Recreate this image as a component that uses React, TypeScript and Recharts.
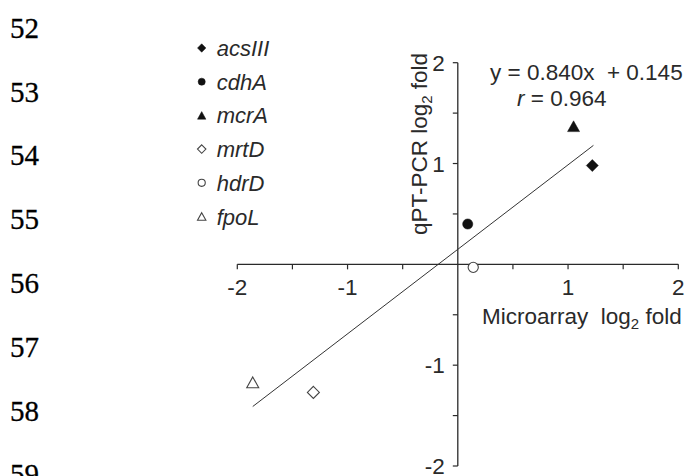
import { ScatterChart, Scatter, XAxis, YAxis, ReferenceLine } from "recharts"

// genes: microarray log2 fold (x) vs qPT-PCR log2 fold (y)
const genes = ["acsIII", "cdhA", "mcrA", "mrtD", "hdrD", "fpoL"]
const microarray = [1.22, 0.09, 1.05, -1.31, 0.14, -1.86]
const qpcr = [0.98, 0.4, 1.37, -1.27, -0.03, -1.17]
const symbols = ["diamond", "circle", "triangle", "diamond", "circle", "triangle"]
const filled = [true, true, true, false, false, false]

// regression line ends
const fitStart = { x: -1.86, y: -1.41 }
const fitEnd = { x: 1.23, y: 1.18 }

const tickValues = [-2, -1.5, -1, -0.5, 0.5, 1, 1.5, 2]
const tickLabels = ["-2", "", "-1", "", "", "1", "", "2"]

const lineNumbers = [52, 53, 54, 55, 56, 57, 58, 59]

const INK = "#2a2a2a"
const FONT = "'Liberation Sans', Arial, sans-serif"

const points = genes.map((g, i) => ({
  gene: g,
  x: microarray[i],
  y: qpcr[i],
  symbol: symbols[i],
  filled: filled[i],
}))

const xTicks = tickValues.map((v, i) => ({ x: v, y: 0, label: tickLabels[i] }))
const yTicks = tickValues.map((v, i) => ({ x: 0, y: v, label: tickLabels[i] }))

const Marker = ({ cx, cy, symbol, isFilled, s }: any) => {
  const fill = isFilled ? "#111" : "#fff"
  const stroke = isFilled ? "#111" : "#444"
  const sw = isFilled ? 0.5 : 1.1
  if (symbol === "diamond") {
    return (
      <polygon
        points={`${cx},${cy - s} ${cx + s},${cy} ${cx},${cy + s} ${cx - s},${cy}`}
        fill={fill}
        stroke={stroke}
        strokeWidth={sw}
      />
    )
  }
  if (symbol === "triangle") {
    const h = s * 0.9
    return (
      <polygon
        points={`${cx},${cy - h} ${cx + s},${cy + h} ${cx - s},${cy + h}`}
        fill={fill}
        stroke={stroke}
        strokeWidth={sw}
      />
    )
  }
  return <circle cx={cx} cy={cy} r={s * 0.85} fill={fill} stroke={stroke} strokeWidth={sw} />
}

const renderPoint = (props: any) => {
  const { cx, cy, payload } = props
  return <Marker cx={cx} cy={cy} symbol={payload.symbol} isFilled={payload.filled} s={6} />
}

const renderXTick = (props: any) => {
  const { cx, cy, payload } = props
  return (
    <g>
      <line x1={cx} y1={cy} x2={cx} y2={cy + 5} stroke={INK} strokeWidth={1.2} />
      {payload.label && (
        <text x={cx} y={cy + 31} textAnchor="middle" fontSize={22.5} fontFamily={FONT} fill={INK}>
          {payload.label}
        </text>
      )}
    </g>
  )
}

const renderYTick = (props: any) => {
  const { cx, cy, payload } = props
  return (
    <g>
      <line x1={cx} y1={cy} x2={cx - 5} y2={cy} stroke={INK} strokeWidth={1.2} />
      {payload.label && (
        <text x={cx - 13} y={cy + 8} textAnchor="end" fontSize={22.5} fontFamily={FONT} fill={INK}>
          {payload.label}
        </text>
      )}
    </g>
  )
}

const App = () => {
  return (
    <div style={{ position: "absolute", left: 0, top: 0, width: 688, height: 476, background: "#fff" }}>
      <ScatterChart
        width={688}
        height={476}
        margin={{ top: 62.7, right: 9.7, bottom: 10, left: 237.3 }}
        style={{ overflow: "visible" }}
      >
        <XAxis type="number" dataKey="x" domain={[-2, 2]} hide />
        <YAxis type="number" dataKey="y" domain={[-2, 2]} hide />
        <ReferenceLine x={0} stroke={INK} strokeWidth={1.3} />
        <ReferenceLine y={0} stroke={INK} strokeWidth={1.3} />
        <ReferenceLine segment={[fitStart, fitEnd]} stroke="#333" strokeWidth={1} />
        <Scatter data={xTicks} shape={renderXTick} isAnimationActive={false} />
        <Scatter data={yTicks} shape={renderYTick} isAnimationActive={false} />
        <Scatter data={points} shape={renderPoint} isAnimationActive={false} />
      </ScatterChart>

      <svg
        width={688}
        height={476}
        style={{ position: "absolute", left: 0, top: 0, pointerEvents: "none" }}
      >
        {lineNumbers.map((n, i) => (
          <text
            key={n}
            x={10}
            y={37.7 + i * 63.8}
            fontSize={29}
            fontFamily="'Liberation Serif', 'Times New Roman', serif"
            fill="#000"
            stroke="#000"
            strokeWidth={0.3}
          >
            {n}
          </text>
        ))}

        {points.map((p, i) => (
          <g key={p.gene}>
            <Marker cx={201.7} cy={48 + i * 33.7} symbol={p.symbol} isFilled={p.filled} s={4.2} />
            <text
              x={216.7}
              y={48 + i * 33.7 + 8}
              fontSize={22}
              fontStyle="italic"
              fontFamily={FONT}
              fill={INK}
            >
              {p.gene}
            </text>
          </g>
        ))}

        <text x={490} y={80} fontSize={22.5} fontFamily={FONT} fill={INK} xmlSpace="preserve">
          y = 0.840x  + 0.145
        </text>
        <text x={517} y={106} fontSize={22.5} fontFamily={FONT} fill={INK}>
          <tspan fontStyle="italic">r</tspan> = 0.964
        </text>

        <text x={482} y={324} fontSize={22.5} fontFamily={FONT} fill={INK} xmlSpace="preserve">
          Microarray  log<tspan fontSize={15} dy={5}>2</tspan>
          <tspan dy={-5}> fold</tspan>
        </text>

        <text
          transform="translate(427, 144) rotate(-90)"
          textAnchor="middle"
          fontSize={22.5}
          fontFamily={FONT}
          fill={INK}
        >
          qPT-PCR log<tspan fontSize={15} dy={5}>2</tspan>
          <tspan dy={-5}> fold</tspan>
        </text>
      </svg>
    </div>
  )
}

export default App
